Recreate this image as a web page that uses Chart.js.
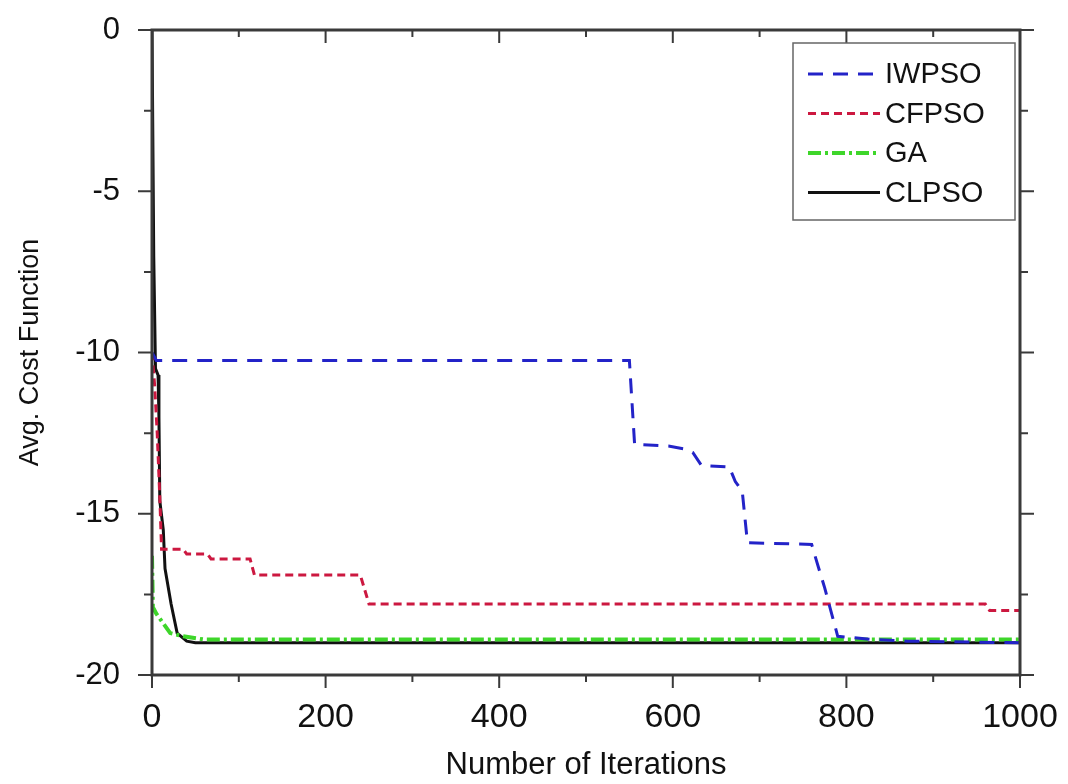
<!DOCTYPE html>
<html lang="en">
<head>
<meta charset="UTF-8">
<title>Avg. Cost Function vs Iterations</title>
<style>
    body { margin: 0; background: #fff; }
    #wrap { width: 1068px; height: 784px; }
</style>
</head>
<body>
<div id="wrap"><canvas id="cost-chart" width="1068" height="784"></canvas></div>

<script src="https://cdn.jsdelivr.net/npm/chart.js"></script>
<script>
    // convergence curves, one pair of arrays per algorithm (iteration, cost)
    const seriesNames = ['IWPSO', 'CFPSO', 'GA', 'CLPSO'];

    const iwpsoIter = [0, 5, 550, 556, 595, 615, 623, 633, 665, 672, 680, 686, 760, 766, 775, 790, 830, 870, 1000];
    const iwpsoCost = [-10.0, -10.25, -10.25, -12.85, -12.9, -13.0, -13.1, -13.5, -13.55, -14.0, -14.3, -15.9, -15.95, -16.5, -17.3, -18.8, -18.9, -18.95, -19.0];

    const cfpsoIter = [0, 3, 6, 9, 11, 36, 40, 64, 68, 113, 118, 240, 250, 960, 965, 1000];
    const cfpsoCost = [-10.0, -11.0, -12.5, -14.5, -16.1, -16.1, -16.25, -16.25, -16.4, -16.4, -16.9, -16.9, -17.8, -17.8, -18.0, -18.0];

    const gaIter = [0, 1, 5, 13, 21, 36, 60, 1000];
    const gaCost = [-16.3, -17.9, -18.1, -18.4, -18.7, -18.8, -18.9, -18.9];

    const clpsoIter = [0, 2, 4, 7, 8, 9, 13, 15, 22, 29, 40, 50, 1000];
    const clpsoCost = [0, -7.0, -10.5, -10.7, -12.0, -14.6, -15.5, -16.7, -17.8, -18.7, -18.95, -19.0, -19.0];

    const xTicks = [0, 200, 400, 600, 800, 1000];
    const yTicks = [0, -5, -10, -15, -20];

    function toPoints(xs, ys) {
        return xs.map((x, i) => ({ x: x, y: ys[i] }));
    }

    const frameColor = '#3a3a3a';

    // box around the plot with ticks on all four sides
    const framePlugin = {
        id: 'frame',
        afterDraw(chart) {
            const { ctx, chartArea: a, scales: { x, y } } = chart;
            ctx.save();
            ctx.strokeStyle = frameColor;
            ctx.lineWidth = 3;
            ctx.strokeRect(a.left, a.top, a.right - a.left, a.bottom - a.top);
            ctx.lineWidth = 2;
            ctx.beginPath();
            for (let v = 0; v <= 1000; v += 100) {
                const px = x.getPixelForValue(v);
                const len = v % 200 === 0 ? 13 : 7;
                ctx.moveTo(px, a.bottom); ctx.lineTo(px, a.bottom + len);
                ctx.moveTo(px, a.top); ctx.lineTo(px, a.top + len);
            }
            for (let v = 0; v >= -20; v -= 2.5) {
                const py = y.getPixelForValue(v);
                const len = v % 5 === 0 ? 14 : 8;
                ctx.moveTo(a.left, py); ctx.lineTo(a.left - len, py);
                ctx.moveTo(a.right, py); ctx.lineTo(a.right + len, py);
            }
            ctx.stroke();
            ctx.restore();
        }
    };

    // legend box in the upper right corner of the plot
    const legendPlugin = {
        id: 'boxLegend',
        afterDraw(chart) {
            const { ctx } = chart;
            const bx = 793, by = 43, bw = 222, bh = 177;
            ctx.save();
            ctx.fillStyle = '#fff';
            ctx.fillRect(bx, by, bw, bh);
            ctx.strokeStyle = '#666';
            ctx.lineWidth = 1.5;
            ctx.strokeRect(bx, by, bw, bh);
            ctx.font = '29px "Liberation Sans", Arial, sans-serif';
            ctx.textBaseline = 'middle';
            chart.data.datasets.forEach((ds, i) => {
                const ly = 74 + i * 39.5;
                ctx.strokeStyle = ds.borderColor;
                ctx.lineWidth = ds.borderWidth;
                ctx.setLineDash(ds.borderDash || []);
                ctx.beginPath();
                ctx.moveTo(808, ly);
                ctx.lineTo(880, ly);
                ctx.stroke();
                ctx.setLineDash([]);
                ctx.fillStyle = '#111';
                ctx.fillText(ds.label, 885, ly + 1);
            });
            ctx.restore();
        }
    };

    const ctx = document.getElementById('cost-chart').getContext('2d');
    const costChart = new Chart(ctx, {
        type: 'line',
        data: {
            datasets: [
                {
                    label: seriesNames[0],
                    data: toPoints(iwpsoIter, iwpsoCost),
                    borderColor: '#2323c8',
                    borderWidth: 3,
                    borderDash: [15, 10]
                },
                {
                    label: seriesNames[1],
                    data: toPoints(cfpsoIter, cfpsoCost),
                    borderColor: '#cc1840',
                    borderWidth: 3,
                    borderDash: [8, 5]
                },
                {
                    label: seriesNames[2],
                    data: toPoints(gaIter, gaCost),
                    borderColor: '#3ed62a',
                    borderWidth: 4,
                    borderDash: [13, 4, 3, 4]
                },
                {
                    label: seriesNames[3],
                    data: toPoints(clpsoIter, clpsoCost),
                    borderColor: '#111111',
                    borderWidth: 3
                }
            ]
        },
        options: {
            responsive: false,
            animation: false,
            layout: { padding: { top: 30, right: 48, left: 0, bottom: 0 } },
            elements: {
                point: { radius: 0 },
                line: { tension: 0, fill: false }
            },
            plugins: {
                legend: { display: false },
                tooltip: { enabled: false }
            },
            scales: {
                x: {
                    type: 'linear',
                    min: 0,
                    max: 1000,
                    afterFit: (s) => { s.height = 109; s.paddingLeft = 0; s.paddingRight = 0; },
                    afterBuildTicks: (s) => { s.ticks = xTicks.map(v => ({ value: v })); },
                    grid: { display: false },
                    border: { display: false },
                    ticks: {
                        padding: 14,
                        color: '#111',
                        maxRotation: 0,
                        callback: (v) => String(v),
                        font: { family: '"Liberation Sans", Arial', size: 34 }
                    },
                    title: {
                        display: true,
                        text: 'Number of Iterations',
                        color: '#111',
                        padding: { top: 0, bottom: 0 },
                        font: { family: '"Liberation Sans", Arial', size: 31 }
                    }
                },
                y: {
                    min: -20,
                    max: 0,
                    afterFit: (s) => { s.width = 152; s.paddingTop = 0; s.paddingBottom = 0; },
                    afterBuildTicks: (s) => { s.ticks = yTicks.map(v => ({ value: v })); },
                    grid: { display: false },
                    border: { display: false },
                    ticks: {
                        padding: 24,
                        color: '#111',
                        font: { family: '"Liberation Sans", Arial', size: 31 }
                    },
                    title: {
                        display: true,
                        text: 'Avg. Cost Function',
                        color: '#111',
                        padding: { top: 14, bottom: 0 },
                        font: { family: '"Liberation Sans", Arial', size: 27 }
                    }
                }
            }
        },
        plugins: [framePlugin, legendPlugin]
    });
</script>
</body>
</html>
